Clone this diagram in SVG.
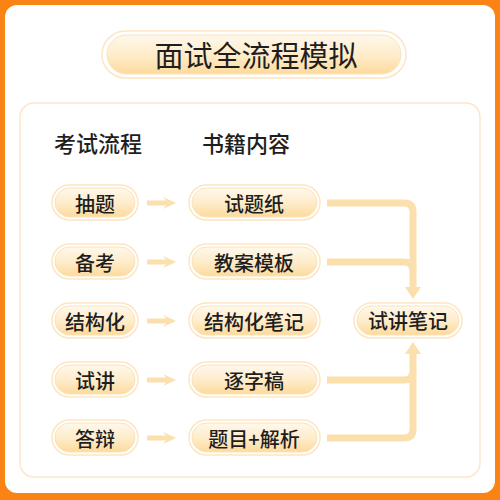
<svg xmlns="http://www.w3.org/2000/svg" width="500" height="500" viewBox="0 0 500 500">
<defs>
<linearGradient id="pg" x1="0" y1="0" x2="0" y2="1">
<stop offset="0" stop-color="#FFF8EC"/>
<stop offset="0.55" stop-color="#FEEBC8"/>
<stop offset="1" stop-color="#FDDA9C"/>
</linearGradient>
<style>
.glow{fill:#FFFFFF;stroke:#FDE6C4;stroke-width:1.5}
.pill{fill:url(#pg);stroke:#FCE3B8;stroke-width:1}
.t{font-family:"Noto Sans CJK SC","Noto Sans",sans-serif;fill:#1E1E1E;text-anchor:middle;dominant-baseline:central;font-weight:500}
.lbl{font-size:20px}
.hdr{font-size:22px}
.con{fill:none;stroke:#FBE0AE;stroke-width:7;stroke-linejoin:round}
.head{fill:#FBE0AE}
</style>
</defs>
<rect x="0" y="0" width="500" height="500" fill="#F98414"/>
<rect x="5" y="5" width="490" height="488" rx="12" fill="#FFFFFF"/>
<g id="title">
<rect x="102" y="31" width="304" height="47" rx="23.5" class="glow"/>
<rect x="107" y="35" width="294" height="39" rx="19.5" class="pill"/>
<text x="256" y="54" class="t" font-size="29" style="font-weight:400">面试全流程模拟</text>
</g>
<rect x="20" y="103" width="460" height="374" rx="14" fill="#FFFFFF" stroke="#FDE6CC" stroke-width="1.5"/>
<g id="headers">
<text x="98" y="142" class="t hdr">考试流程</text>
<text x="246" y="142" class="t hdr">书籍内容</text>
</g>
<g id="connectors">
<path class="head" d="M147,200.5 H166 L163,197 L176,203 L163,209 L166,205.5 H147 Z"/>
<path class="head" d="M147,259.5 H166 L163,256 L176,262 L163,268 L166,264.5 H147 Z"/>
<path class="head" d="M147,318.5 H166 L163,315 L176,321 L163,327 L166,323.5 H147 Z"/>
<path class="head" d="M147,377.5 H166 L163,374 L176,380 L163,386 L166,382.5 H147 Z"/>
<path class="head" d="M147,435.5 H166 L163,432 L176,438 L163,444 L166,440.5 H147 Z"/>
<path class="con" d="M327,203 H404 Q413,203 413,212 V289"/>
<path class="con" d="M327,262 H404 Q413,262 413,271"/>
<polygon class="head" points="405,287 421,287 413,299"/>
<path class="con" d="M327,438 H404 Q413,438 413,429 V352"/>
<path class="con" d="M327,380 H404 Q413,380 413,371"/>
<polygon class="head" points="405,354 421,354 413,342"/>
</g>
<g id="n1"><rect x="52" y="185" width="86" height="35" rx="17.5" class="glow"/><rect x="55" y="188" width="80" height="29" rx="14.5" class="pill"/><text x="95" y="203" class="t lbl">抽题</text></g>
<g id="n2"><rect x="52" y="244" width="86" height="35" rx="17.5" class="glow"/><rect x="55" y="247" width="80" height="29" rx="14.5" class="pill"/><text x="95" y="262" class="t lbl">备考</text></g>
<g id="n3"><rect x="52" y="303" width="86" height="35" rx="17.5" class="glow"/><rect x="55" y="306" width="80" height="29" rx="14.5" class="pill"/><text x="95" y="321" class="t lbl">结构化</text></g>
<g id="n4"><rect x="52" y="362" width="86" height="35" rx="17.5" class="glow"/><rect x="55" y="365" width="80" height="29" rx="14.5" class="pill"/><text x="95" y="380" class="t lbl">试讲</text></g>
<g id="n5"><rect x="52" y="420" width="86" height="35" rx="17.5" class="glow"/><rect x="55" y="423" width="80" height="29" rx="14.5" class="pill"/><text x="95" y="438" class="t lbl">答辩</text></g>
<g id="m1"><rect x="189" y="185" width="131" height="35" rx="17.5" class="glow"/><rect x="192" y="188" width="125" height="29" rx="14.5" class="pill"/><text x="254" y="203" class="t lbl">试题纸</text></g>
<g id="m2"><rect x="189" y="244" width="131" height="35" rx="17.5" class="glow"/><rect x="192" y="247" width="125" height="29" rx="14.5" class="pill"/><text x="254" y="262" class="t lbl">教案模板</text></g>
<g id="m3"><rect x="189" y="303" width="131" height="35" rx="17.5" class="glow"/><rect x="192" y="306" width="125" height="29" rx="14.5" class="pill"/><text x="254" y="321" class="t lbl">结构化笔记</text></g>
<g id="m4"><rect x="189" y="362" width="131" height="35" rx="17.5" class="glow"/><rect x="192" y="365" width="125" height="29" rx="14.5" class="pill"/><text x="254" y="380" class="t lbl">逐字稿</text></g>
<g id="m5"><rect x="189" y="420" width="131" height="35" rx="17.5" class="glow"/><rect x="192" y="423" width="125" height="29" rx="14.5" class="pill"/><text x="254" y="438" class="t lbl">题目+解析</text></g>
<g id="r1"><rect x="354" y="303" width="108" height="35" rx="17.5" class="glow"/><rect x="357" y="306" width="102" height="29" rx="14.5" class="pill"/><text x="408" y="320" class="t lbl">试讲笔记</text></g>
</svg>
